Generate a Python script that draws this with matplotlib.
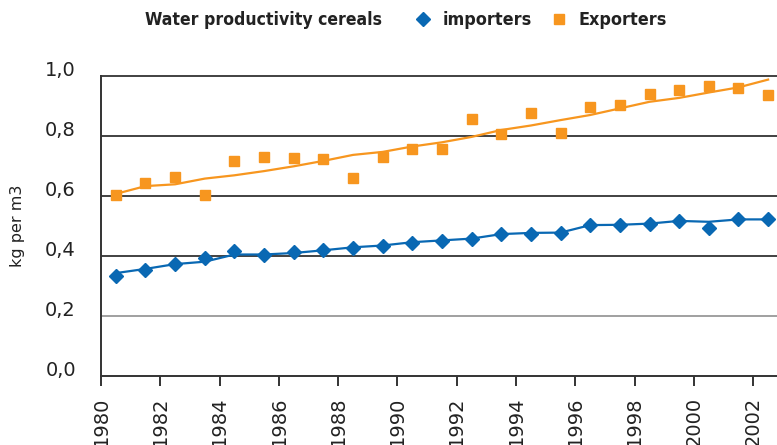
import matplotlib
matplotlib.use("Agg")
import matplotlib.pyplot as plt
from matplotlib.ticker import FuncFormatter
from matplotlib import font_manager
import numpy as np

years = list(range(1980, 2003))

importers_pts = [0.334, 0.353, 0.375, 0.394, 0.416, 0.405, 0.413, 0.419, 0.426, 0.433,
                 0.444, 0.449, 0.457, 0.472, 0.475, 0.478, 0.503, 0.503, 0.508, 0.516,
                 0.494, 0.522, 0.522]
importers_line = [0.343, 0.357, 0.373, 0.381, 0.405, 0.405, 0.410, 0.419, 0.429, 0.435,
                  0.446, 0.452, 0.458, 0.473, 0.477, 0.478, 0.503, 0.504, 0.508, 0.517,
                  0.514, 0.522, 0.522]

exporters_pts = [0.603, 0.643, 0.663, 0.603, 0.718, 0.730, 0.727, 0.723, 0.660, 0.730,
                 0.757, 0.757, 0.857, 0.805, 0.877, 0.809, 0.897, 0.904, 0.941, 0.954,
                 0.967, 0.961, 0.937]
exporters_line = [0.607, 0.633, 0.639, 0.658, 0.669, 0.683, 0.699, 0.717, 0.737, 0.747,
                  0.765, 0.779, 0.797, 0.820, 0.835, 0.853, 0.870, 0.892, 0.914, 0.927,
                  0.945, 0.962, 0.988]

xtick_years = list(range(1980, 2003, 2))
ytick_vals = [0.0, 0.2, 0.4, 0.6, 0.8, 1.0]

title_text = "Water productivity cereals"
imp_label = "importers"
exp_label = "Exporters"
ylabel_text = "kg per m3"

BLUE = "#0968B3"
ORANGE = "#F7961F"

# condensed bold header font if available
names = {f.name for f in font_manager.fontManager.ttflist}
if "Liberation Sans Narrow" in names:
    hdr_prop = dict(family="Liberation Sans Narrow", weight="bold", size=13.5)
    leg_prop = dict(hdr_prop)
else:
    hdr_prop = dict(family="DejaVu Sans", stretch="condensed", weight="bold", size=12.6)
    leg_prop = dict(hdr_prop, size=12.9)

fig = plt.figure(figsize=(7.77, 4.45), dpi=100)
ax = fig.add_axes([101/777, 1-376/445, 1-101/777, (376-76)/445])

x = np.array(years) + 0.5
ax.plot(x, exporters_line, color=ORANGE, lw=1.6, zorder=3)
ax.plot(x, importers_line, color=BLUE, lw=1.6, zorder=3)
h_exp, = ax.plot(x, exporters_pts, ls="none", marker="s", ms=7.8, color=ORANGE,
                 mec=ORANGE, zorder=4, label=exp_label)
h_imp, = ax.plot(x, importers_pts, ls="none", marker="D", ms=6.8, color=BLUE,
                 mec=BLUE, zorder=4, label=imp_label)

ax.set_xlim(1980, 2002.8)
ax.set_ylim(0, 1.0)
ax.set_xticks(xtick_years)
ax.set_xticklabels([str(y) for y in xtick_years], rotation=90, fontsize=14,
                   color="#222222")
ax.tick_params(axis="x", direction="out", length=7, width=1.4, color="#333333",
               pad=8)
ax.set_yticks(ytick_vals)
ax.yaxis.set_major_formatter(FuncFormatter(lambda v, p: f"{v:.1f}".replace(".", ",")))
ax.tick_params(axis="y", length=0, pad=18, labelsize=14, labelcolor="#222222")
for lab in ax.get_yticklabels():
    lab.set_va("baseline")
for lab in ax.get_xticklabels():
    lab.set_va("top")

for s in ["top", "right"]:
    ax.spines[s].set_visible(False)
for s in ["left", "bottom"]:
    ax.spines[s].set_color("#333333")
    ax.spines[s].set_linewidth(1.4)

ax.grid(axis="y", color="#333333", lw=1.3)
ax.set_axisbelow(True)
for v, gl in zip(ytick_vals, ax.get_ygridlines()):
    if abs(v - 0.2) < 1e-6:
        gl.set_color("#999999")
    if abs(v - 0.0) < 1e-6:
        gl.set_visible(False)
ax.yaxis.get_gridlines()[-1].set_clip_on(False)

fig.text(18/777, 1-226/445, ylabel_text, rotation=90, ha="center", va="center",
         fontsize=11.5, color="#222222")

fig.text(145/777, 1-20/445, title_text, ha="left", va="center",
         color="#222222", **hdr_prop)
leg = fig.legend(handles=[h_imp, h_exp], labels=[imp_label, exp_label], ncol=2,
                 loc="center left", bbox_to_anchor=(414/777, 1-20/445),
                 frameon=False, handlelength=1.0, handletextpad=0.6,
                 columnspacing=1.0, borderaxespad=0, borderpad=0,
                 prop=leg_prop)
for t in leg.get_texts():
    t.set_color("#222222")

fig.savefig("out.png", dpi=100)
